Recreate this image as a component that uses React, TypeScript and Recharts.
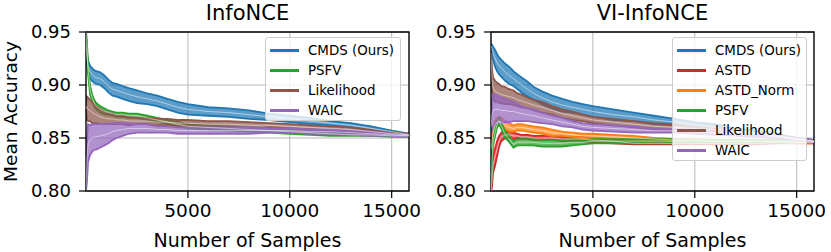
import React from 'react';
import { ComposedChart, Area, Line, XAxis, YAxis, CartesianGrid, ReferenceArea } from 'recharts';

const SAMPLES = [0, 50, 100, 200, 300, 400, 500, 700, 900, 1100, 1300, 1500, 1800, 2100, 2500, 3000, 3500, 4000, 4500, 5000, 6000, 7000, 8000, 9000, 10000, 11000, 12000, 13000, 14000, 15000, 15850];
const X_TICKS = [5000, 10000, 15000];
const Y_TICKS = [0.8, 0.85, 0.9, 0.95];
const X_MAX = 15850;

// InfoNCE
const INFO_CMDS_MEAN = [0.94, 0.925, 0.917, 0.912, 0.910, 0.908, 0.907, 0.906, 0.903, 0.899, 0.896, 0.895, 0.893, 0.891, 0.889, 0.887, 0.885, 0.882, 0.879, 0.877, 0.875, 0.874, 0.872, 0.870, 0.868, 0.866, 0.864, 0.862, 0.859, 0.856, 0.853];
const INFO_CMDS_HW = [0.002, 0.006, 0.006, 0.006, 0.006, 0.006, 0.006, 0.006, 0.006, 0.006, 0.006, 0.006, 0.006, 0.006, 0.006, 0.005, 0.005, 0.005, 0.005, 0.005, 0.004, 0.004, 0.004, 0.003, 0.003, 0.003, 0.002, 0.002, 0.002, 0.001, 0.001];
const INFO_PSFV_MEAN = [0.95, 0.935, 0.915, 0.895, 0.888, 0.883, 0.880, 0.877, 0.875, 0.874, 0.873, 0.872, 0.872, 0.871, 0.871, 0.869, 0.867, 0.865, 0.863, 0.861, 0.860, 0.859, 0.858, 0.857, 0.856, 0.855, 0.854, 0.853, 0.853, 0.852, 0.852];
const INFO_PSFV_HW = [0.001, 0.004, 0.004, 0.004, 0.003, 0.003, 0.003, 0.003, 0.003, 0.002, 0.002, 0.002, 0.002, 0.002, 0.002, 0.002, 0.002, 0.002, 0.002, 0.002, 0.002, 0.002, 0.002, 0.002, 0.002, 0.002, 0.002, 0.001, 0.001, 0.001, 0.001];
const INFO_LIK_MEAN = [0.88, 0.878, 0.877, 0.876, 0.874, 0.873, 0.872, 0.870, 0.869, 0.868, 0.868, 0.867, 0.867, 0.866, 0.866, 0.866, 0.865, 0.865, 0.864, 0.864, 0.863, 0.863, 0.862, 0.862, 0.861, 0.860, 0.859, 0.858, 0.856, 0.854, 0.853];
const INFO_LIK_HW = [0.003, 0.011, 0.011, 0.010, 0.010, 0.009, 0.008, 0.007, 0.006, 0.005, 0.005, 0.004, 0.004, 0.004, 0.003, 0.003, 0.003, 0.003, 0.003, 0.003, 0.003, 0.003, 0.003, 0.002, 0.002, 0.002, 0.002, 0.002, 0.002, 0.001, 0.001];
const INFO_WAIC_MEAN = [0.80, 0.83, 0.845, 0.848, 0.850, 0.851, 0.851, 0.852, 0.853, 0.854, 0.856, 0.857, 0.858, 0.859, 0.859, 0.859, 0.858, 0.858, 0.857, 0.857, 0.857, 0.857, 0.857, 0.857, 0.857, 0.856, 0.856, 0.855, 0.854, 0.853, 0.852];
const INFO_WAIC_HW = [0.0, 0.02, 0.018, 0.014, 0.013, 0.012, 0.012, 0.011, 0.010, 0.009, 0.008, 0.007, 0.006, 0.005, 0.004, 0.004, 0.003, 0.003, 0.003, 0.003, 0.003, 0.003, 0.003, 0.002, 0.002, 0.002, 0.002, 0.002, 0.002, 0.001, 0.001];

// VI-InfoNCE
const VI_CMDS_MEAN = [0.937, 0.934, 0.930, 0.925, 0.921, 0.918, 0.916, 0.912, 0.909, 0.906, 0.903, 0.900, 0.896, 0.892, 0.888, 0.884, 0.881, 0.879, 0.877, 0.875, 0.872, 0.870, 0.867, 0.865, 0.862, 0.860, 0.857, 0.855, 0.852, 0.849, 0.847];
const VI_CMDS_HW = [0.002, 0.004, 0.006, 0.008, 0.008, 0.008, 0.008, 0.008, 0.008, 0.007, 0.007, 0.007, 0.007, 0.006, 0.006, 0.006, 0.006, 0.005, 0.005, 0.005, 0.005, 0.004, 0.004, 0.003, 0.003, 0.003, 0.002, 0.002, 0.002, 0.001, 0.001];
const VI_ASTD_MEAN = [0.80, 0.81, 0.825, 0.832, 0.840, 0.847, 0.851, 0.853, 0.853, 0.852, 0.852, 0.851, 0.851, 0.850, 0.850, 0.850, 0.849, 0.849, 0.849, 0.848, 0.847, 0.845, 0.845, 0.845, 0.845, 0.845, 0.845, 0.845, 0.846, 0.846, 0.846];
const VI_ASTD_HW = [0.0, 0.006, 0.008, 0.008, 0.007, 0.005, 0.004, 0.003, 0.003, 0.003, 0.002, 0.002, 0.002, 0.002, 0.002, 0.002, 0.002, 0.002, 0.002, 0.002, 0.002, 0.001, 0.001, 0.001, 0.001, 0.001, 0.001, 0.001, 0.001, 0.001, 0.001];
const VI_NORM_MEAN = [0.84, 0.845, 0.855, 0.862, 0.865, 0.866, 0.865, 0.862, 0.860, 0.859, 0.860, 0.860, 0.859, 0.858, 0.857, 0.855, 0.854, 0.853, 0.852, 0.852, 0.851, 0.850, 0.849, 0.848, 0.848, 0.847, 0.847, 0.847, 0.847, 0.846, 0.846];
const VI_NORM_HW = [0.0, 0.004, 0.004, 0.004, 0.004, 0.004, 0.004, 0.004, 0.004, 0.003, 0.003, 0.003, 0.003, 0.003, 0.003, 0.003, 0.002, 0.002, 0.002, 0.002, 0.002, 0.002, 0.001, 0.001, 0.001, 0.001, 0.001, 0.001, 0.001, 0.001, 0.001];
const VI_PSFV_MEAN = [0.80, 0.83, 0.845, 0.855, 0.863, 0.866, 0.862, 0.853, 0.849, 0.844, 0.846, 0.846, 0.846, 0.846, 0.845, 0.845, 0.845, 0.846, 0.846, 0.847, 0.847, 0.847, 0.847, 0.847, 0.847, 0.847, 0.847, 0.847, 0.847, 0.847, 0.847];
const VI_PSFV_HW = [0.0, 0.003, 0.003, 0.003, 0.003, 0.003, 0.003, 0.003, 0.003, 0.003, 0.003, 0.003, 0.003, 0.003, 0.003, 0.003, 0.003, 0.003, 0.002, 0.002, 0.002, 0.002, 0.002, 0.002, 0.001, 0.001, 0.001, 0.001, 0.001, 0.001, 0.001];
const VI_LIK_MEAN = [0.93, 0.905, 0.897, 0.894, 0.893, 0.892, 0.891, 0.890, 0.889, 0.888, 0.886, 0.885, 0.883, 0.881, 0.879, 0.876, 0.873, 0.871, 0.869, 0.867, 0.865, 0.863, 0.861, 0.860, 0.859, 0.858, 0.856, 0.854, 0.852, 0.849, 0.847];
const VI_LIK_HW = [0.0, 0.01, 0.01, 0.01, 0.009, 0.009, 0.008, 0.008, 0.007, 0.007, 0.006, 0.006, 0.005, 0.005, 0.005, 0.004, 0.004, 0.004, 0.003, 0.003, 0.003, 0.003, 0.003, 0.003, 0.002, 0.002, 0.002, 0.002, 0.001, 0.001, 0.001];
const VI_WAIC_MEAN = [0.86, 0.872, 0.876, 0.877, 0.877, 0.877, 0.876, 0.876, 0.875, 0.875, 0.874, 0.873, 0.872, 0.871, 0.869, 0.867, 0.865, 0.863, 0.861, 0.860, 0.859, 0.858, 0.857, 0.857, 0.856, 0.855, 0.854, 0.853, 0.851, 0.849, 0.847];
const VI_WAIC_HW = [0.0, 0.015, 0.015, 0.014, 0.013, 0.012, 0.012, 0.011, 0.010, 0.009, 0.008, 0.007, 0.006, 0.006, 0.005, 0.004, 0.004, 0.003, 0.003, 0.003, 0.003, 0.003, 0.002, 0.002, 0.002, 0.002, 0.002, 0.002, 0.001, 0.001, 0.001];

const C_BLUE = '#1f77b4';
const C_ORANGE = '#ff7f0e';
const C_GREEN = '#2ca02c';
const C_RED = '#d62728';
const C_PURPLE = '#9467bd';
const C_BROWN = '#8c564b';

type Series = { key: string; name: string; color: string; mean: number[]; hw: number[] };

const INFO_SERIES: Series[] = [
  { key: 'cmds', name: 'CMDS (Ours)', color: C_BLUE, mean: INFO_CMDS_MEAN, hw: INFO_CMDS_HW },
  { key: 'psfv', name: 'PSFV', color: C_GREEN, mean: INFO_PSFV_MEAN, hw: INFO_PSFV_HW },
  { key: 'lik', name: 'Likelihood', color: C_BROWN, mean: INFO_LIK_MEAN, hw: INFO_LIK_HW },
  { key: 'waic', name: 'WAIC', color: C_PURPLE, mean: INFO_WAIC_MEAN, hw: INFO_WAIC_HW },
];

const VI_SERIES: Series[] = [
  { key: 'cmds', name: 'CMDS (Ours)', color: C_BLUE, mean: VI_CMDS_MEAN, hw: VI_CMDS_HW },
  { key: 'astd', name: 'ASTD', color: C_RED, mean: VI_ASTD_MEAN, hw: VI_ASTD_HW },
  { key: 'norm', name: 'ASTD_Norm', color: C_ORANGE, mean: VI_NORM_MEAN, hw: VI_NORM_HW },
  { key: 'psfv', name: 'PSFV', color: C_GREEN, mean: VI_PSFV_MEAN, hw: VI_PSFV_HW },
  { key: 'lik', name: 'Likelihood', color: C_BROWN, mean: VI_LIK_MEAN, hw: VI_LIK_HW },
  { key: 'waic', name: 'WAIC', color: C_PURPLE, mean: VI_WAIC_MEAN, hw: VI_WAIC_HW },
];

const FONT = '"DejaVu Sans", sans-serif';

function buildRows(series: Series[]) {
  return SAMPLES.map((s, i) => {
    const row: any = { x: s };
    series.forEach((se) => {
      row[se.key] = [se.mean[i] - se.hw[i], se.mean[i] + se.hw[i]];
      row[se.key + '_m'] = se.mean[i];
    });
    return row;
  });
}

function LegendBox({ series, left, top, width }: { series: Series[]; left: number; top: number; width: number }) {
  return (
    <div
      style={{
        position: 'absolute',
        left,
        top,
        width,
        height: series.length * 20 + 4,
        boxSizing: 'border-box',
        border: '1px solid #cccccc',
        borderRadius: 3,
        background: 'rgba(255,255,255,0.8)',
        paddingTop: 2,
        fontFamily: FONT,
        fontSize: 13.4,
        color: '#000',
      }}
    >
      {series.map((se) => (
        <div key={se.key} style={{ height: 20, display: 'flex', alignItems: 'center', whiteSpace: 'nowrap' }}>
          <div style={{ width: 29, height: 3, background: se.color, marginLeft: 4, marginRight: 9 }} />
          <span>{se.name}</span>
        </div>
      ))}
    </div>
  );
}

function Panel({ title, series, left, legendLeft, legendWidth }: { title: string; series: Series[]; left: number; legendLeft: number; legendWidth: number }) {
  const rows = buildRows(series);
  return (
    <div style={{ position: 'absolute', left, top: 0, width: 420, height: 252 }}>
      <svg width={420} height={30} style={{ position: 'absolute', left: 0, top: 0 }}>
        <text x={247.5} y={19.8} textAnchor="middle" fontFamily={FONT} fontSize={21} fill="#000">
          {title}
        </text>
      </svg>
      <ComposedChart width={420} height={252} data={rows} margin={{ top: 32, right: 11, bottom: 0, left: 0 }}>
        <CartesianGrid stroke="#b0b0b0" strokeWidth={0.9} />
        <XAxis
          dataKey="x"
          type="number"
          domain={[0, X_MAX]}
          allowDataOverflow
          ticks={X_TICKS}
          height={61}
          tickSize={7}
          tickMargin={6}
          axisLine={false}
          tickLine={{ stroke: '#000', strokeWidth: 1.2 }}
          tick={{ fill: '#000', fontFamily: FONT, fontSize: 18.5 }}
          label={{ value: 'Number of Samples', position: 'insideBottom', offset: 5, fill: '#000', fontFamily: FONT, fontSize: 19 }}
        />
        <YAxis
          type="number"
          domain={[0.8, 0.95]}
          allowDataOverflow
          ticks={Y_TICKS}
          width={86}
          tickSize={7}
          tickMargin={8}
          axisLine={false}
          tickLine={{ stroke: '#000', strokeWidth: 1.2 }}
          tickFormatter={(v: number) => v.toFixed(2)}
          tick={{ fill: '#000', fontFamily: FONT, fontSize: 18 }}
        />
        {series.map((se) => (
          <Area
            key={se.key}
            type="linear"
            dataKey={se.key}
            stroke={se.color}
            strokeWidth={1.8}
            fill={se.color}
            fillOpacity={0.72}
            dot={false}
            activeDot={false}
            isAnimationActive={false}
          />
        ))}
        {series.map((se) => (
          <Line
            key={se.key + '_m'}
            type="linear"
            dataKey={se.key + '_m'}
            stroke="#ffffff"
            strokeOpacity={0.5}
            strokeWidth={1}
            dot={false}
            activeDot={false}
            isAnimationActive={false}
          />
        ))}
        <ReferenceArea x1={0} x2={X_MAX} y1={0.8} y2={0.95} fill="none" stroke="#000" strokeWidth={1.3} ifOverflow="visible" />
      </ComposedChart>
      <LegendBox series={series} left={legendLeft} top={37} width={legendWidth} />
    </div>
  );
}

export default function App() {
  return (
    <div style={{ position: 'absolute', left: 0, top: 0, width: 831, height: 252, background: '#fff', overflow: 'hidden' }}>
      <svg width={40} height={252} style={{ position: 'absolute', left: 0, top: 0, zIndex: 2 }}>
        <text x={17} y={111.5} transform="rotate(-90 17 111.5)" textAnchor="middle" fontFamily={FONT} fontSize={18.5} fill="#000">
          Mean Accuracy
        </text>
      </svg>
      <Panel title="InfoNCE" series={INFO_SERIES} left={0} legendLeft={265} legendWidth={136} />
      <Panel title="VI-InfoNCE" series={VI_SERIES} left={405} legendLeft={267} legendWidth={135} />
    </div>
  );
}
